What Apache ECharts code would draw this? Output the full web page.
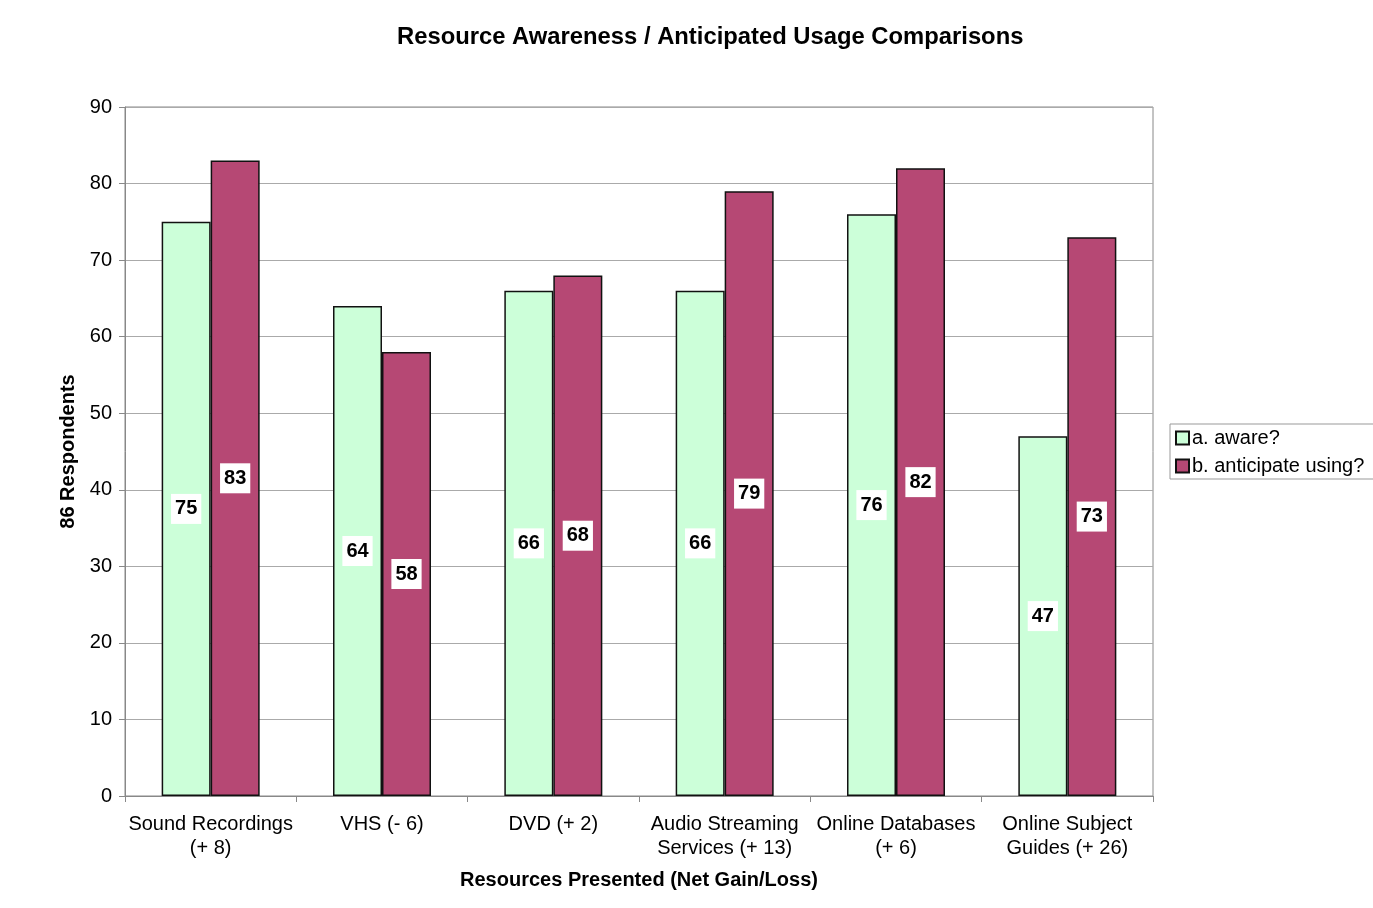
<!DOCTYPE html>
<html>
<head>
<meta charset="utf-8">
<script src="https://cdn.jsdelivr.net/npm/echarts@6/dist/echarts.min.js"></script>
<style>
  html, body { margin: 0; padding: 0; background: #fff; }
  #chart { width: 1373px; height: 908px; }
</style>
</head>
<body>
<div id="chart"></div>
<script>
const categories = [
  'Sound Recordings\n(+ 8)',
  'VHS (- 6)',
  'DVD (+ 2)',
  'Audio Streaming\nServices (+ 13)',
  'Online Databases\n(+ 6)',
  'Online Subject\nGuides (+ 26)'
];
const aware = [75, 64, 66, 66, 76, 47];
const anticipate = [83, 58, 68, 79, 82, 73];

const FONT = '"Liberation Sans", Arial, sans-serif';

const valueLabel = {
  show: true,
  position: 'inside',
  color: '#000',
  fontFamily: FONT,
  fontWeight: 'bold',
  fontSize: 20,
  backgroundColor: '#fff',
  padding: [6, 4, 4, 4]
};

const chart = echarts.init(document.getElementById('chart'), null, { renderer: 'canvas' });
chart.setOption({
  animation: false,
  backgroundColor: '#fff',
  textStyle: { fontFamily: FONT },
  title: {
    text: 'Resource Awareness / Anticipated Usage Comparisons',
    left: 392,
    top: 20,
    textStyle: { fontFamily: FONT, fontWeight: 'bold', fontSize: 23.8, color: '#000' }
  },
  legend: {
    orient: 'vertical',
    left: 1170,
    top: 424,
    icon: 'rect',
    itemWidth: 13,
    itemHeight: 13,
    itemGap: 8,
    padding: [4, 12, 3, 5],
    borderColor: '#999',
    borderWidth: 1,
    textStyle: { fontFamily: FONT, fontSize: 20, color: '#000', padding: [0, 0, 0, -2] },
    data: ['a. aware?', 'b. anticipate using?']
  },
  grid: {
    left: 125,
    top: 107,
    width: 1028,
    height: 689,
    show: true,
    borderColor: '#888',
    borderWidth: 1
  },
  xAxis: {
    type: 'category',
    data: categories,
    name: 'Resources Presented (Net Gain/Loss)',
    nameLocation: 'middle',
    nameGap: 74,
    nameTextStyle: { fontFamily: FONT, fontWeight: 'bold', fontSize: 20, color: '#000' },
    axisLine: { lineStyle: { color: '#888' } },
    axisTick: { show: true, length: 6, alignWithLabel: false, lineStyle: { color: '#888' } },
    axisLabel: { fontFamily: FONT, fontSize: 20, color: '#000', margin: 16, lineHeight: 24, interval: 0 }
  },
  yAxis: {
    type: 'value',
    min: 0,
    max: 90,
    interval: 10,
    name: '86 Respondents',
    nameLocation: 'middle',
    nameGap: 46,
    nameTextStyle: { fontFamily: FONT, fontWeight: 'bold', fontSize: 20, color: '#000' },
    axisLine: { show: true, lineStyle: { color: '#888' } },
    axisTick: { show: true, length: 6, lineStyle: { color: '#888' } },
    axisLabel: { fontFamily: FONT, fontSize: 20, color: '#000', margin: 13 },
    splitLine: { show: true, lineStyle: { color: '#aaa', width: 1 } }
  },
  series: [
    {
      name: 'a. aware?',
      type: 'bar',
      data: aware,
      barWidth: 49,
      barGap: '0%',
      itemStyle: { color: '#ccffd9', borderColor: '#111', borderWidth: 1.5 },
      label: valueLabel
    },
    {
      name: 'b. anticipate using?',
      type: 'bar',
      data: anticipate,
      barWidth: 49,
      barGap: '0%',
      itemStyle: { color: '#b64874', borderColor: '#111', borderWidth: 1.5 },
      label: valueLabel
    }
  ]
});
</script>
</body>
</html>
